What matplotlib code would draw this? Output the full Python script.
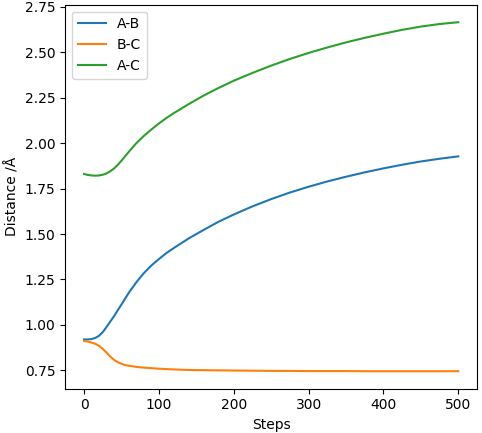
import matplotlib
matplotlib.use("Agg")
import matplotlib.pyplot as plt

steps = [0, 5, 10, 15, 20, 25, 30, 35, 40, 45, 50, 55, 60, 70, 80, 90, 100,
         110, 120, 140, 160, 180, 200, 225, 250, 275, 300, 325, 350, 375,
         400, 425, 450, 475, 500]

ab = [0.920, 0.920, 0.922, 0.928, 0.940, 0.960, 0.988, 1.018, 1.047, 1.080,
      1.112, 1.145, 1.178, 1.235, 1.285, 1.327, 1.362, 1.395, 1.423, 1.476,
      1.523, 1.568, 1.607, 1.652, 1.692, 1.728, 1.760, 1.789, 1.815, 1.839,
      1.861, 1.881, 1.899, 1.914, 1.927]

bc = [0.912, 0.908, 0.903, 0.896, 0.885, 0.868, 0.848, 0.826, 0.808, 0.795,
      0.786, 0.779, 0.775, 0.769, 0.765, 0.762, 0.759, 0.757, 0.755, 0.752,
      0.751, 0.750, 0.749, 0.748, 0.747, 0.747, 0.746, 0.746, 0.746, 0.745,
      0.745, 0.745, 0.745, 0.745, 0.745]

ac = [1.830, 1.825, 1.822, 1.821, 1.822, 1.826, 1.833, 1.845, 1.860, 1.880,
      1.903, 1.928, 1.953, 2.000, 2.040, 2.075, 2.108, 2.138, 2.165, 2.215,
      2.262, 2.304, 2.343, 2.386, 2.426, 2.463, 2.496, 2.526, 2.554, 2.579,
      2.602, 2.623, 2.641, 2.655, 2.665]

fig = plt.figure(figsize=(4.82, 4.33), dpi=100)
ax = fig.add_axes([0.1355, 0.1023, 0.9896 - 0.1355, 0.989 - 0.1023])
ax.plot(steps, ab, label="A-B")
ax.plot(steps, bc, label="B-C")
ax.plot(steps, ac, label="A-C")
ax.set_xlabel("Steps")
ax.set_ylabel("Distance /Å")
ax.legend(loc="upper left")
fig.savefig("out.png", dpi=100)
